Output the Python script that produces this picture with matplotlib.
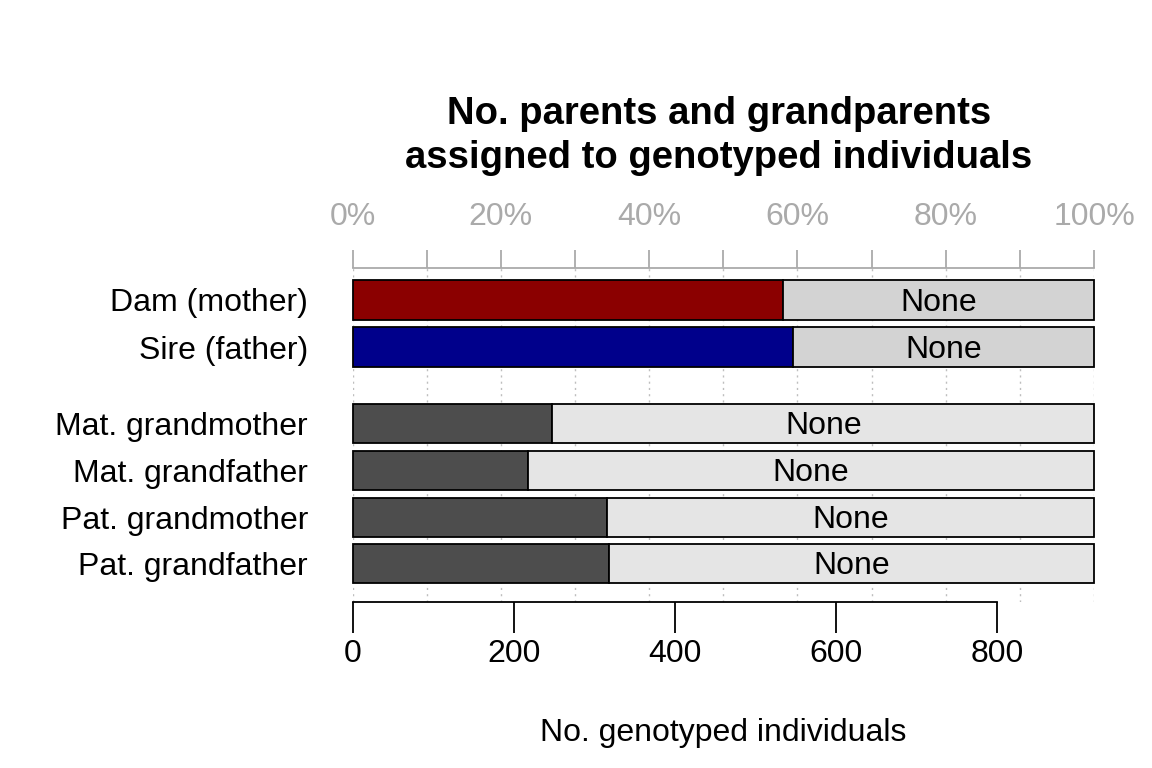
import matplotlib.pyplot as plt

plt.rcParams['font.family'] = ['Liberation Sans', 'DejaVu Sans']

# data
n_total = 920
categorias = ['Dam (mother)', 'Sire (father)', 'Mat. grandmother',
              'Mat. grandfather', 'Pat. grandmother', 'Pat. grandfather']
atribuidos = [534, 546, 248, 218, 316, 318]
posicoes = [0, 1, 2.62, 3.62, 4.62, 5.6]
cores = ['#8B0000', '#00008B', '#4D4D4D', '#4D4D4D', '#4D4D4D', '#4D4D4D']
cores_none = ['#D3D3D3', '#D3D3D3', '#E5E5E5', '#E5E5E5', '#E5E5E5', '#E5E5E5']
ticks_n = [0, 200, 400, 600, 800]
ticks_pct = [0, 10, 20, 30, 40, 50, 60, 70, 80, 90, 100]

W, H = 1152, 768
fs = 23
fig = plt.figure(figsize=(W / 100, H / 100), dpi=100)
x0, x1 = 352.5, 1094
y0, y1 = 268, 602
ax = fig.add_axes([x0 / W, 1 - y1 / H, (x1 - x0) / W, (y1 - y0) / H])

ax.set_xlim(0, n_total)
ax.set_ylim((602 - 300) / 47, (268 - 300) / 47)

# grade pontilhada a cada 10%
for p in ticks_pct:
    ax.axvline(p / 100 * n_total, color='#BEBEBE', ls=(0, (1.5, 3)), lw=1, zorder=0)

h = 0.83
for y, v, c, cn in zip(posicoes, atribuidos, cores, cores_none):
    ax.barh(y, v, height=h, color=c, edgecolor='black', lw=1.3, clip_on=False, zorder=2)
    ax.barh(y, n_total - v, left=v, height=h, color=cn, edgecolor='black', lw=1.3,
            clip_on=False, zorder=2)
    ax.text((v + n_total) / 2, y + 0.06, 'None', ha='center', va='center', fontsize=fs, zorder=3)

ax.set_yticks(posicoes)
ax.set_yticklabels(categorias, fontsize=fs)
ax.tick_params(axis='y', length=0, pad=32)

for s in ['left', 'right', 'top']:
    ax.spines[s].set_visible(False)
ax.spines['bottom'].set_bounds(0, 800)
ax.spines['bottom'].set_linewidth(1.3)
ax.set_xticks(ticks_n)
ax.set_xticklabels([str(t) for t in ticks_n], fontsize=fs)
ax.tick_params(axis='x', length=22, width=1.3, pad=5)
ax.set_xlabel('No. genotyped individuals', fontsize=fs, labelpad=35)

# eixo de cima em %
ax2 = ax.twiny()
ax2.set_xlim(0, 100)
for s in ['left', 'right', 'bottom']:
    ax2.spines[s].set_visible(False)
ax2.spines['top'].set_color('#AAAAAA')
ax2.spines['top'].set_linewidth(1.3)
ax2.set_xticks(ticks_pct)
ax2.set_xticklabels([f'{t}%' if t % 20 == 0 else '' for t in ticks_pct],
                    fontsize=fs, color='#AAAAAA')
ax2.tick_params(axis='x', length=13, width=1.3, color='#AAAAAA', pad=13)

fig.text(719 / W, 1 - 136 / H, 'No. parents and grandparents\nassigned to genotyped individuals',
         ha='center', va='center', fontsize=27.5, fontweight='bold', linespacing=1.3)

fig.savefig('out.png', dpi=100)
